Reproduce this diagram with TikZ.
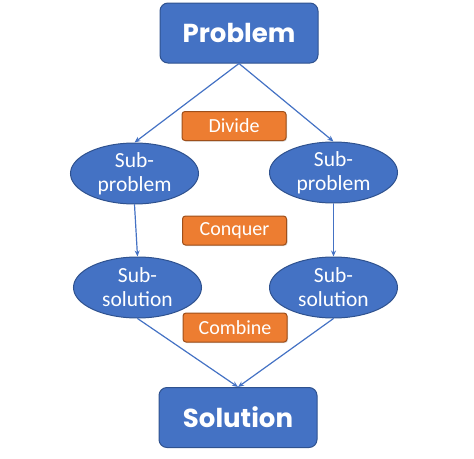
\documentclass[tikz,border=0pt]{standalone}
\usepackage{fontspec}
\setmainfont{Carlito}
\newfontfamily\headfont{Poppins}[UprightFont=* Bold]
\usetikzlibrary{shapes.geometric,arrows.meta,shadows}
\definecolor{oblue}{HTML}{4472C4}
\definecolor{dblue}{HTML}{2F528F}
\definecolor{oorange}{HTML}{ED7D31}
\definecolor{dorange}{HTML}{9E4F1A}
\tikzset{
  bigbox/.style={draw=dblue, line width=1pt, fill=oblue, rounded corners=8pt, minimum width=158pt, minimum height=60pt, text=white, font=\headfont\fontsize{26}{30}\selectfont, inner sep=0pt},
  ell/.style={ellipse, draw=dblue, line width=1pt, fill=oblue, minimum width=128pt, minimum height=61pt, text=white, font=\fontsize{21.5}{24}\selectfont, align=center, inner sep=0pt},
  tag/.style={draw=dorange, line width=1pt, fill=oorange, rounded corners=3pt, minimum width=104pt, minimum height=29pt, text=white, font=\fontsize{20}{22}\selectfont, inner sep=0pt, drop shadow={shadow xshift=1pt, shadow yshift=-1pt, opacity=0.3}},
  conn/.style={draw=oblue, line width=1.2pt, -{Stealth[length=6pt,width=5pt]}}
}
\begin{document}
\begin{tikzpicture}[x=1pt,y=-1pt]
\useasboundingbox (0,0) rectangle (474,458);
\node[bigbox] (prob) at (239,33) {Problem};
\node[tag] (div) at (234,126) {Divide};
\node[ell] (sp1) at (134.5,173.5) {Sub-\\problem};
\node[ell] (sp2) at (333.5,172.5) {Sub-\\problem};
\node[tag] (conq) at (234.5,230.5) {Conquer};
\node[ell] (ss1) at (137.5,287.5) {Sub-\\solution};
\node[ell] (ss2) at (333.5,287.5) {Sub-\\solution};
\node[tag] (comb) at (235,327.5) {Combine};
\node[bigbox] (sol) at (238,417.5) {Solution};
\draw[conn] (prob.south) -- (sp1.north);
\draw[conn] (prob.south) -- (sp2.north);
\draw[conn] (sp1.south) -- (ss1.north);
\draw[conn] (sp2.south) -- (ss2.north);
\draw[conn] (ss1.south) -- (sol.north);
\draw[conn] (ss2.south) -- (sol.north);
\end{tikzpicture}
\end{document}
